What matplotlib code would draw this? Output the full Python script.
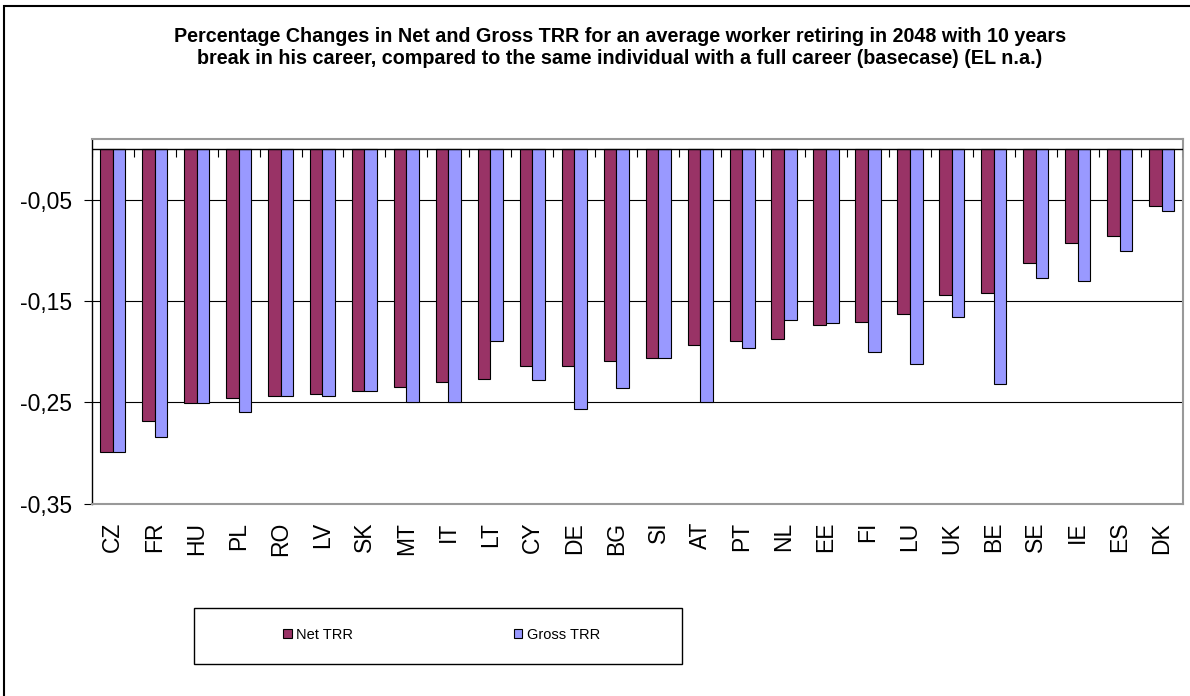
import numpy as np
import matplotlib.pyplot as plt
from matplotlib.patches import Rectangle
from matplotlib.ticker import FuncFormatter

plt.rcParams['font.family'] = ['Liberation Sans', 'DejaVu Sans']

countries = ["CZ", "FR", "HU", "PL", "RO", "LV", "SK", "MT", "IT", "LT", "CY", "DE", "BG",
             "SI", "AT", "PT", "NL", "EE", "FI", "LU", "UK", "BE", "SE", "IE", "ES", "DK"]
net_trr = [-0.299, -0.268, -0.251, -0.246, -0.2435, -0.242, -0.239, -0.235, -0.230, -0.227,
           -0.214, -0.214, -0.209, -0.206, -0.193, -0.1895, -0.187, -0.1734, -0.1705, -0.163,
           -0.1435, -0.142, -0.112, -0.0928, -0.0853, -0.0557]
gross_trr = [-0.299, -0.284, -0.251, -0.259, -0.2435, -0.2435, -0.239, -0.250, -0.250, -0.1895,
             -0.228, -0.2567, -0.236, -0.206, -0.250, -0.196, -0.169, -0.1718, -0.200, -0.212,
             -0.166, -0.2317, -0.127, -0.130, -0.1004, -0.0612]
yticks = [-0.35, -0.25, -0.15, -0.05]

W, H = 1190, 696
fig = plt.figure(figsize=(W / 100, H / 100), dpi=100)
ax = fig.add_axes([91.7 / W, 1 - 503.7 / H, (1182.7 - 91.7) / W, (503.7 - 139) / H])

x = np.arange(len(countries))
bw = 0.3
ax.bar(x - bw / 2, net_trr, bw, color="#993366", edgecolor="black", linewidth=0.8,
       label="Net TRR", zorder=3)
ax.bar(x + bw / 2, gross_trr, bw, color="#9999FF", edgecolor="black", linewidth=0.8,
       label="Gross TRR", zorder=3)

ax.set_xlim(-0.5, len(countries) - 0.5)
ax.set_ylim(-0.35, 0.0102)
ax.set_yticks(yticks)
ax.yaxis.set_major_formatter(FuncFormatter(lambda v, p: ("%.2f" % v).replace(".", ",")))
ax.yaxis.grid(True, color="black", linewidth=0.8)
ax.set_axisbelow(True)

ax.axhline(0, color="black", linewidth=1, zorder=4)
ax.vlines(np.arange(len(countries) + 1) - 0.5, -0.008, 0, color="black", linewidth=0.8, zorder=4)

ax.set_xticks(x)
ax.set_xticklabels(countries, rotation=90, fontsize=16.5)
ax.tick_params(axis="x", length=0, pad=13)
ax.tick_params(axis="y", length=6, width=0.8, direction="out", labelsize=16.5, pad=8)

for s in ["top", "right", "bottom"]:
    ax.spines[s].set_color("#999999")
    ax.spines[s].set_linewidth(1.5)
ax.spines["left"].set_color("black")
ax.spines["left"].set_linewidth(1)

fig.text(620 / W, 1 - 47 / H,
         "Percentage Changes in Net and Gross TRR for an average worker retiring in 2048 with 10 years\n"
         "break in his career, compared to the same individual with a full career (basecase) (EL n.a.)",
         ha="center", va="center", fontsize=14.2, fontweight="bold", linespacing=1.2)

# legend
fig.add_artist(Rectangle((194 / W, 1 - 664 / H), (682 - 194) / W, (664 - 608) / H,
                         transform=fig.transFigure, fill=False, edgecolor="black", linewidth=1))
fig.legend(loc="center", bbox_to_anchor=(283 / W, 1 - 645 / H, (600 - 283) / W, 20 / H),
           mode="expand", ncol=2, frameon=False, fontsize=10.5, handlelength=0.6,
           handleheight=0.6, handletextpad=0.3, borderpad=0, borderaxespad=0)

# outer chart border
fig.add_artist(Rectangle((4 / W, -0.1), 1.2, 1.1 - 6 / H, transform=fig.transFigure,
                         fill=False, edgecolor="black", linewidth=1.5))

fig.savefig("out.png", dpi=100)
